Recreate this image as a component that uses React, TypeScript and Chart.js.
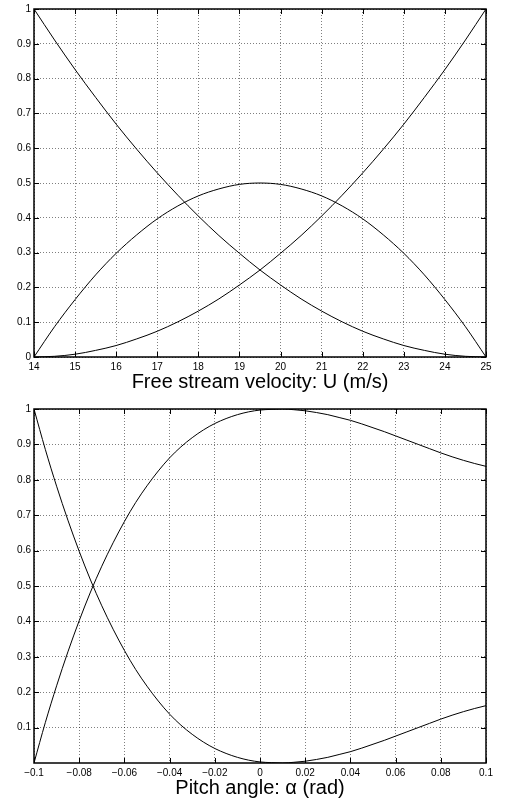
import React, { useEffect, useRef } from "react";
import { Chart, registerables } from "chart.js";

Chart.register(...registerables);

// ---------- Top chart data (free stream velocity) ----------
const velocity = [
  14, 14.5, 15, 15.5, 16, 16.5, 17, 17.5, 18, 18.5, 19, 19.5,
  20, 20.5, 21, 21.5, 22, 22.5, 23, 23.5, 24, 24.5, 25,
];
const curveFalling = [
  1.0, 0.911, 0.826, 0.746, 0.669, 0.597, 0.529, 0.465, 0.405, 0.349, 0.298, 0.25,
  0.207, 0.167, 0.132, 0.101, 0.074, 0.052, 0.033, 0.019, 0.008, 0.002, 0.0,
];
const curveHump = [
  0.0, 0.087, 0.165, 0.236, 0.298, 0.351, 0.397, 0.434, 0.463, 0.483, 0.496, 0.5,
  0.496, 0.483, 0.463, 0.434, 0.397, 0.351, 0.298, 0.236, 0.165, 0.087, 0.0,
];
const curveRising = [
  0.0, 0.002, 0.008, 0.019, 0.033, 0.052, 0.074, 0.101, 0.132, 0.167, 0.207, 0.25,
  0.298, 0.349, 0.405, 0.465, 0.529, 0.597, 0.669, 0.746, 0.826, 0.911, 1.0,
];
const velocityTicks = [14, 15, 16, 17, 18, 19, 20, 21, 22, 23, 24, 25];
const velocityTickLabels = ["14", "15", "16", "17", "18", "19", "20", "21", "22", "23", "24", "25"];
const topYTicks = [0, 0.1, 0.2, 0.3, 0.4, 0.5, 0.6, 0.7, 0.8, 0.9, 1];
const topYTickLabels = ["0", "0.1", "0.2", "0.3", "0.4", "0.5", "0.6", "0.7", "0.8", "0.9", "1"];

// ---------- Bottom chart data (pitch angle) ----------
const pitch = [
  -0.1, -0.095, -0.09, -0.085, -0.08, -0.075, -0.07, -0.065, -0.06, -0.055, -0.05,
  -0.045, -0.04, -0.035, -0.03, -0.025, -0.02, -0.015, -0.01, -0.005, 0,
  0.005, 0.01, 0.015, 0.02, 0.025, 0.03, 0.035, 0.04, 0.045, 0.05,
  0.055, 0.06, 0.065, 0.07, 0.075, 0.08, 0.085, 0.09, 0.095, 0.1,
];
const curveDecay = [
  1.0, 0.886, 0.782, 0.686, 0.598, 0.517, 0.444, 0.378, 0.318, 0.264, 0.217,
  0.175, 0.138, 0.107, 0.081, 0.059, 0.041, 0.027, 0.016, 0.008, 0.003,
  0.001, 0.0, 0.002, 0.005, 0.01, 0.016, 0.024, 0.032, 0.042, 0.053,
  0.064, 0.076, 0.088, 0.1, 0.112, 0.124, 0.135, 0.145, 0.154, 0.162,
];
const curveGrow = [
  0.0, 0.114, 0.218, 0.314, 0.402, 0.483, 0.556, 0.622, 0.682, 0.736, 0.783,
  0.825, 0.862, 0.893, 0.919, 0.941, 0.959, 0.973, 0.984, 0.992, 0.997,
  0.999, 1.0, 0.998, 0.995, 0.99, 0.984, 0.976, 0.968, 0.958, 0.947,
  0.936, 0.924, 0.912, 0.9, 0.888, 0.876, 0.865, 0.855, 0.846, 0.838,
];
const pitchTicks = [-0.1, -0.08, -0.06, -0.04, -0.02, 0, 0.02, 0.04, 0.06, 0.08, 0.1];
const pitchTickLabels = ["\u22120.1", "\u22120.08", "\u22120.06", "\u22120.04", "\u22120.02", "0", "0.02", "0.04", "0.06", "0.08", "0.1"];
const bottomYTicks = [0.1, 0.2, 0.3, 0.4, 0.5, 0.6, 0.7, 0.8, 0.9, 1];
const bottomYTickLabels = ["0.1", "0.2", "0.3", "0.4", "0.5", "0.6", "0.7", "0.8", "0.9", "1"];

const FONT = "'Liberation Sans', Arial, Helvetica, sans-serif";

const framePlugin = {
  id: "matlabFrame",
  afterDraw(chart: any) {
    const { ctx, chartArea: a, scales } = chart;
    ctx.save();
    ctx.strokeStyle = "#000";
    ctx.lineWidth = 1;
    const tl = 5;
    ctx.beginPath();
    scales.x.ticks.forEach((t: any) => {
      const px = Math.round(scales.x.getPixelForValue(t.value)) + 0.5;
      ctx.moveTo(px, a.bottom);
      ctx.lineTo(px, a.bottom - tl);
      ctx.moveTo(px, a.top);
      ctx.lineTo(px, a.top + tl);
    });
    scales.y.ticks.forEach((t: any) => {
      const py = Math.round(scales.y.getPixelForValue(t.value)) + 0.5;
      ctx.moveTo(a.left, py);
      ctx.lineTo(a.left + tl, py);
      ctx.moveTo(a.right, py);
      ctx.lineTo(a.right - tl, py);
    });
    ctx.stroke();
    ctx.lineWidth = 1.5;
    ctx.strokeRect(a.left, a.top, a.right - a.left, a.bottom - a.top);
    ctx.restore();
  },
};

type PanelProps = {
  xs: number[];
  series: number[][];
  xMin: number;
  xMax: number;
  xTicks: number[];
  xLabels: string[];
  yTicks: number[];
  yLabels: string[];
  title: string;
  height: number;
  padTop: number;
  xAxisHeight: number;
  titlePad: number;
};

function Panel(p: PanelProps) {
  const ref = useRef<HTMLCanvasElement | null>(null);
  useEffect(() => {
    if (!ref.current) return;
    const chart = new Chart(ref.current, {
      type: "line",
      data: {
        datasets: p.series.map((s) => ({
          data: p.xs.map((x, i) => ({ x, y: s[i] })),
          borderColor: "#000",
          borderWidth: 1,
          pointRadius: 0,
          fill: false,
          cubicInterpolationMode: "monotone" as const,
        })),
      },
      options: {
        animation: false,
        responsive: false,
        devicePixelRatio: 1,
        layout: { padding: { top: p.padTop, right: 19, left: 0, bottom: 0 } },
        plugins: { legend: { display: false }, tooltip: { enabled: false } },
        scales: {
          x: {
            type: "linear",
            min: p.xMin,
            max: p.xMax,
            afterBuildTicks: (s: any) => {
              s.ticks = p.xTicks.map((v) => ({ value: v }));
            },
            afterFit: (s: any) => {
              s.height = p.xAxisHeight;
            },
            grid: { color: "rgba(0,0,0,0.5)", lineWidth: 1, drawTicks: false },
            border: { display: false, dash: [1, 2] },
            ticks: {
              autoSkip: false,
              maxRotation: 0,
              padding: 4,
              color: "#000",
              font: { family: FONT, size: 10 },
              callback: (_v: any, i: number) => p.xLabels[i],
            },
            title: {
              display: true,
              text: p.title,
              color: "#000",
              font: { family: FONT, size: 20 },
              padding: { top: 0, bottom: p.titlePad },
            },
          },
          y: {
            type: "linear",
            min: 0,
            max: 1,
            afterBuildTicks: (s: any) => {
              s.ticks = p.yTicks.map((v) => ({ value: v }));
            },
            afterFit: (s: any) => {
              s.width = 34;
            },
            grid: { color: "rgba(0,0,0,0.5)", lineWidth: 1, drawTicks: false },
            border: { display: false, dash: [1, 2] },
            ticks: {
              autoSkip: false,
              padding: 3,
              color: "#000",
              font: { family: FONT, size: 10 },
              callback: (_v: any, i: number) => p.yLabels[i],
            },
          },
        },
      },
      plugins: [framePlugin],
    } as any);
    return () => chart.destroy();
  }, []);
  return <canvas ref={ref} width={505} height={p.height} style={{ display: "block" }} />;
}

export default function App() {
  return (
    <div style={{ position: "absolute", left: 0, top: 0, width: 505, height: 807, background: "#fff" }}>
      <Panel
        xs={velocity}
        series={[curveFalling, curveHump, curveRising]}
        xMin={14}
        xMax={25}
        xTicks={velocityTicks}
        xLabels={velocityTickLabels}
        yTicks={topYTicks}
        yLabels={topYTickLabels}
        title="Free stream velocity: U (m/s)"
        height={400}
        padTop={1}
        xAxisHeight={43}
        titlePad={6}
      />
      <Panel
        xs={pitch}
        series={[curveDecay, curveGrow]}
        xMin={-0.1}
        xMax={0.1}
        xTicks={pitchTicks}
        xLabels={pitchTickLabels}
        yTicks={bottomYTicks}
        yLabels={bottomYTickLabels}
        title="Pitch angle: α (rad)"
        height={407}
        padTop={9}
        xAxisHeight={44}
        titlePad={7}
      />
    </div>
  );
}
